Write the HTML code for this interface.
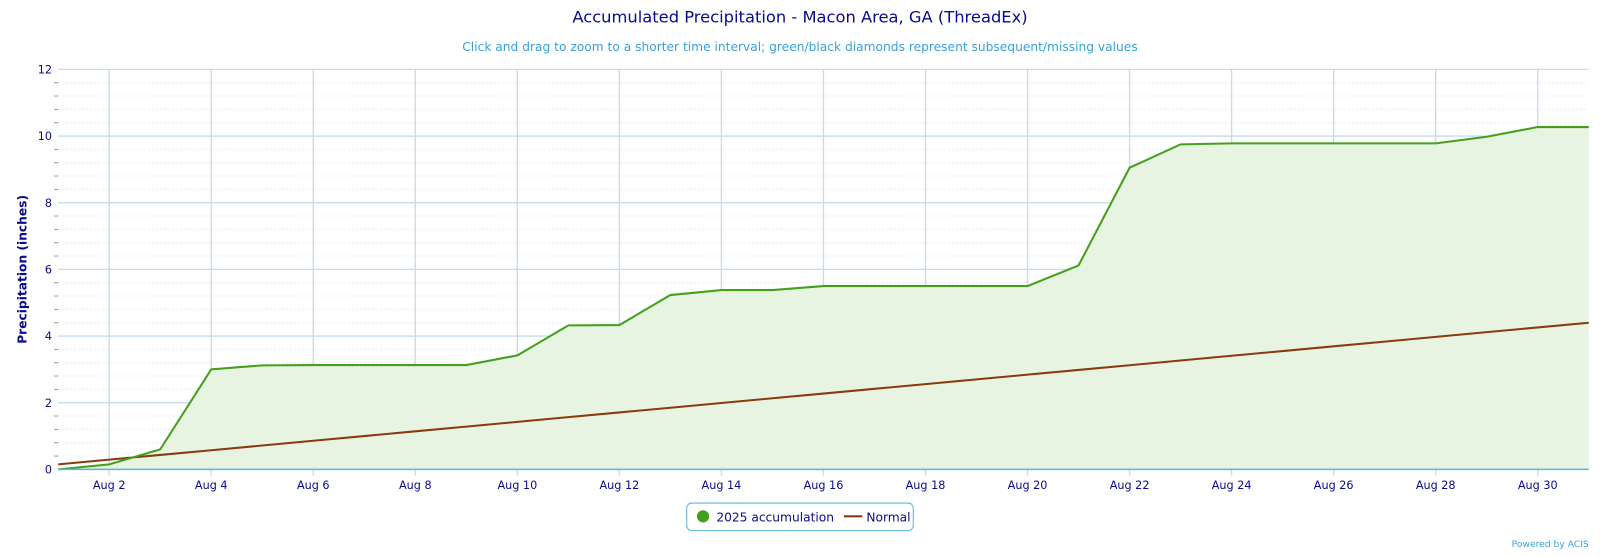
<!DOCTYPE html>
<html><head><meta charset="utf-8"><style>
body{margin:0;background:#fff;font-family:"Liberation Sans","DejaVu Sans",sans-serif}
</style></head><body>
<svg width="1600" height="552" xmlns="http://www.w3.org/2000/svg" font-family="DejaVu Sans, Liberation Sans, sans-serif">
<g transform="scale(1.0204)">
<text x="784" y="22" text-anchor="middle" font-size="16" fill="#0a0a8c">Accumulated Precipitation - Macon Area, GA (ThreadEx)</text>
<text x="784" y="50" text-anchor="middle" font-size="12" fill="#3aa0dc">Click and drag to zoom to a shorter time interval; green/black diamonds represent subsequent/missing values</text>
<g id="minor" stroke="#d8dde8" stroke-dasharray="1,3"></g>
<g id="grid"></g>
<path id="area" fill="#e8f4e2" stroke="none"/>
<polyline id="normal" fill="none" stroke="#8b3a0f" stroke-width="2"/>
<polyline id="green" fill="none" stroke="#44a01c" stroke-width="2"/>
<line x1="57" y1="460" x2="1557" y2="460" stroke="#5ab4d8" stroke-width="1.5"/>
<g id="labels" font-size="11" fill="#0a0a8c"></g>
<text transform="translate(26,264) rotate(-90)" text-anchor="middle" font-size="12" font-weight="bold" fill="#0a0a8c">Precipitation (inches)</text>
<rect x="673" y="493" width="222" height="27" rx="5" fill="#fff" stroke="#5ab4d8"/>
<circle cx="689" cy="506" r="6" fill="#44a01c"/>
<text x="702" y="511" font-size="12" fill="#0a0a8c">2025 accumulation</text>
<line x1="827" y1="506" x2="845" y2="506" stroke="#8b3a0f" stroke-width="2"/>
<text x="849" y="511" font-size="12" fill="#0a0a8c">Normal</text>
<text x="1557" y="536" text-anchor="end" font-size="9" fill="#3aa0dc">Powered by ACIS</text>
</g>
</svg>
<script>
const ns="http://www.w3.org/2000/svg";
const X=d=>57+50*(d-1), Y=v=>460-v*32.667;
function el(p,t,a,txt){const e=document.createElementNS(ns,t);for(const k in a)e.setAttribute(k,a[k]);if(txt)e.textContent=txt;document.getElementById(p).appendChild(e);}
for(let v=0;v<12;v+=0.4){if(Math.abs(v/2-Math.round(v/2))<0.01)continue;el("minor","line",{x1:57,x2:1557,y1:Y(v),y2:Y(v)});el("grid","line",{x1:53,x2:57,y1:Y(v),y2:Y(v),stroke:"#999"});}
for(let v=2;v<=12;v+=2){el("grid","line",{x1:57,x2:1557,y1:Y(v),y2:Y(v),stroke:"#c4dcee","stroke-width":1.3});}
for(let v=0;v<=12;v+=2)el("labels","text",{x:51,y:Y(v)+4,"text-anchor":"end"},String(v));
for(let d=2;d<=30;d+=2){el("grid","line",{x1:X(d),x2:X(d),y1:68,y2:466,stroke:"#c4dcee","stroke-width":1.3});el("labels","text",{x:X(d),y:479,"text-anchor":"middle"},"Aug "+d);}
const g=[0,0.15,0.6,3.0,3.12,3.13,3.13,3.13,3.13,3.42,4.32,4.33,5.23,5.38,5.38,5.5,5.5,5.5,5.5,5.5,6.12,9.05,9.75,9.78,9.78,9.78,9.78,9.78,9.98,10.27,10.27];
const pts=g.map((v,i)=>X(i+1)+","+Y(v)).join(" ");
document.getElementById("green").setAttribute("points",pts);
document.getElementById("area").setAttribute("d","M"+X(1)+","+Y(0)+" L"+pts.replace(/ /g," L")+" L"+X(31)+","+Y(0)+"Z");
let n=[];for(let d=1;d<=31;d++)n.push(X(d)+","+Y(0.15+(4.4-0.15)*(d-1)/30));
document.getElementById("normal").setAttribute("points",n.join(" "));
</script>
</body></html>
